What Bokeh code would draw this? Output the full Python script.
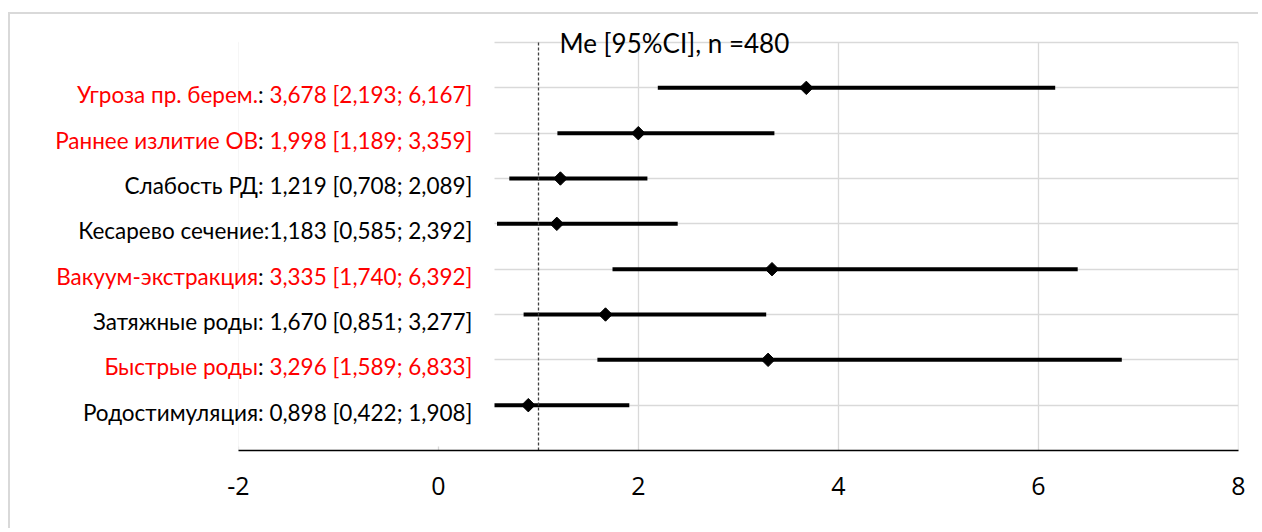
import glob
import math
import os
import subprocess

from bokeh.plotting import figure
from bokeh.models import (Range1d, FixedTicker, BoxAnnotation,
                          ColumnDataSource, Label)
from bokeh.embed import file_html
from bokeh.resources import INLINE
from bokeh.core.properties import value

# ---------------- data ----------------
names = ["Угроза пр. берем.", "Раннее излитие ОВ", "Слабость РД",
         "Кесарево сечение", "Вакуум-экстракция", "Затяжные роды",
         "Быстрые роды", "Родостимуляция"]
me = [3.678, 1.998, 1.219, 1.183, 3.335, 1.670, 3.296, 0.898]
ci_low = [2.193, 1.189, 0.708, 0.585, 1.740, 0.851, 1.589, 0.422]
ci_high = [6.167, 3.359, 2.089, 2.392, 6.392, 3.277, 6.833, 1.908]
significant = [True, True, False, False, True, False, True, False]
separators = [": ", ": ", ": ", ":", ": ", ": ", ": ", ": "]
x_ticks = [-2, 0, 2, 4, 6, 8]
x_tick_labels = ["-2", "0", "2", "4", "6", "8"]
reference_value = 1
title_text = "Me [95%CI], n =480"

LABEL_FONT = "Lato"
TICK_FONT = "Open Sans"
RED = "#ff0000"
BLACK = "#000000"
GRID = "#d9d9d9"


# ---------------- font measuring ----------------
def find_font_file(family, filename):
    try:
        out = subprocess.run(["fc-match", "-f", "%{file}", family + ":style=Regular"],
                             capture_output=True, text=True, timeout=5).stdout.strip()
        if out and family.split()[0].lower() in os.path.basename(out).lower():
            return out
    except Exception:
        pass
    for d in ["/usr/share/fonts", "/usr/local/share/fonts",
              os.path.expanduser("~/.fonts"), os.path.expanduser("~/.local/share/fonts")]:
        hits = glob.glob(os.path.join(d, "**", filename), recursive=True)
        if hits:
            return hits[0]
    return None


_measure = None
try:
    from PIL import ImageFont
    _path = find_font_file(LABEL_FONT, "Lato-Regular.ttf")
    if _path:
        _pil = ImageFont.truetype(_path, 200)
        _measure = lambda s: _pil.getlength(s) / 200.0
except Exception:
    _measure = None


def text_width(s, size):
    if _measure is not None:
        return _measure(s) * size
    return 0.5 * size * len(s)


def fmt(v):
    return ("%.3f" % v).replace(".", ",")


value_parts = [f"{fmt(m)} [{fmt(l)}; {fmt(h)}]" for m, l, h in zip(me, ci_low, ci_high)]
full_labels = [n + s + v for n, s, v in zip(names, separators, value_parts)]

# font sizes matched to the widths of the reference texts
lab_size = 24.0 * 392.0 / text_width(full_labels[0], 24.0)
lab_size = round(lab_size * 2) / 2
title_size = 29.0 * 230.0 / text_width(title_text, 29.0)
title_size = round(title_size * 2) / 2

n = len(names)
ys = [n - i for i in range(n)]
y_top = n + 1

# ---------------- label segments ----------------
label_x = 0.34
seg_x, seg_y, seg_text, seg_color, seg_off = [], [], [], [], []
for i in range(n):
    total = text_width(full_labels[i], lab_size)
    start = -total
    if significant[i]:
        colon = separators[i].strip()
        w_name = text_width(names[i], lab_size)
        w_sep = text_width(names[i] + separators[i], lab_size) - w_name
        parts = [(names[i], RED, start),
                 (colon, BLACK, start + w_name),
                 (value_parts[i], RED, start + w_name + w_sep)]
    else:
        parts = [(full_labels[i], BLACK, start)]
    for t, c, o in parts:
        seg_x.append(label_x)
        seg_y.append(ys[i])
        seg_text.append(t)
        seg_color.append(c)
        seg_off.append(o)

lab_src = ColumnDataSource(dict(x=seg_x, y=seg_y, text=seg_text, color=seg_color, xo=seg_off))
src = ColumnDataSource(dict(y=ys, me=me, lo=ci_low, hi=ci_high))

# ---------------- figure ----------------
p = figure(width=1250, height=516, x_range=Range1d(-2, 8), y_range=Range1d(0, 9.618),
           output_backend="svg", toolbar_location=None,
           min_border_left=228, min_border_right=22, min_border_top=0, min_border_bottom=80)
p.styles = {"margin-left": "8px", "margin-top": "12px",
            "border-top": "2px solid #d9d9d9", "border-left": "2px solid #d9d9d9"}
p.outline_line_color = None
p.background_fill_color = "white"
p.border_fill_color = "white"

p.yaxis.visible = False
p.xaxis.ticker = FixedTicker(ticks=x_ticks)
p.xaxis.major_label_overrides = dict(zip(x_ticks, x_tick_labels))
p.xaxis.major_tick_line_color = None
p.xaxis.minor_tick_line_color = None
p.xaxis.axis_line_color = "#000000"
p.xaxis.axis_line_width = 1.5
p.xaxis.major_label_text_font = TICK_FONT
p.xaxis.major_label_text_font_size = "25px"
p.xaxis.major_label_text_color = "#000000"
p.xaxis.major_label_standoff = 20

p.xgrid.visible = False
p.ygrid.ticker = FixedTicker(ticks=list(range(1, y_top + 1)))
p.ygrid.grid_line_color = GRID
p.ygrid.grid_line_width = 1.3

# vertical grid lines end at the top gridline
p.segment(x0=x_ticks, y0=[0] * len(x_ticks), x1=x_ticks, y1=[y_top] * len(x_ticks),
          line_color=GRID, line_width=1.3, level="underlay")

p.segment(x0="lo", y0="y", x1="hi", y1="y", source=src, line_color="black", line_width=4)
p.scatter(x="me", y="y", source=src, marker="square", angle=math.pi / 4, size=9.5,
          color="black")

# white label area that hides grid on the left (as in the reference)
p.add_layout(BoxAnnotation(left=-2.5, right=0.56, bottom=0.09, top=9.7,
                           fill_color="white", fill_alpha=1.0, line_color=None))

p.segment(x0=[reference_value], y0=[0], x1=[reference_value], y1=[y_top],
          line_color="#404040", line_dash="3 2", line_width=1.3)

p.text(x="x", y="y", text="text", source=lab_src, text_color="color", x_offset="xo",
       y_offset=7, text_align="left", text_baseline="middle",
       text_font=value(LABEL_FONT), text_font_size=f"{lab_size}px", level="overlay")

p.add_layout(Label(x=1.21, y=y_top, text=title_text, text_baseline="middle", text_align="left",
                   text_font=LABEL_FONT, text_font_size=f"{title_size}px", text_color="#000000"))

open("out.html", "w").write(file_html(p, INLINE))
